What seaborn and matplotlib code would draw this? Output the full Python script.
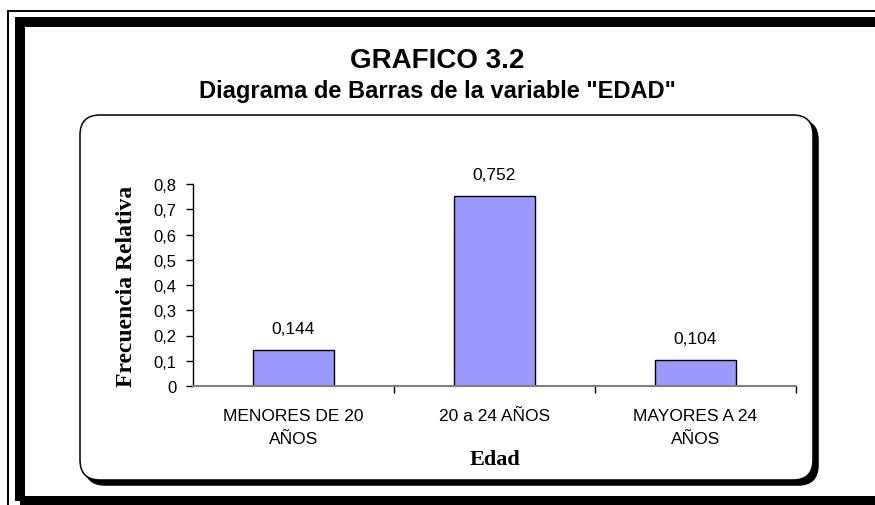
import matplotlib
matplotlib.use('Agg')
import matplotlib.pyplot as plt
import seaborn as sns
import pandas as pd
from matplotlib.patches import FancyBboxPatch, Rectangle
from matplotlib.ticker import FuncFormatter, FixedLocator

# Datos del grafico
categorias = ['MENORES DE 20\nAÑOS', '20 a 24 AÑOS', 'MAYORES A 24\nAÑOS']
frecuencia_relativa = [0.144, 0.752, 0.104]
etiquetas = ['0,144', '0,752', '0,104']
y_ticks = [0, 0.1, 0.2, 0.3, 0.4, 0.5, 0.6, 0.7, 0.8]

sns.set_style('white')
plt.rcParams['font.family'] = ['Liberation Sans', 'DejaVu Sans']
plt.rcParams['text.color'] = 'black'
plt.rcParams['axes.labelcolor'] = 'black'
plt.rcParams['xtick.color'] = 'black'
plt.rcParams['ytick.color'] = 'black'

W, H = 875, 506
fig = plt.figure(figsize=(W / 100, H / 100), dpi=100)
tr = fig.dpi_scale_trans


def px(x, y):
    # pixel (desde arriba) -> pulgadas (desde abajo)
    return x / 100, (H - y) / 100


# Marco exterior (linea fina + linea gruesa)
fig.add_artist(Rectangle(px(8, 520), 8.72, 5.08, fill=False, ec='black',
                         lw=1.44, transform=tr, zorder=-5))
fig.add_artist(Rectangle(px(20, 502), 8.57, 4.79, fill=False, ec='black',
                         lw=7.2, joinstyle='miter', transform=tr, zorder=-5))

# Recuadro redondeado con sombra
fig.add_artist(FancyBboxPatch(px(85, 486), 7.33, 3.65,
                              boxstyle='round,pad=0,rounding_size=0.2',
                              fc='black', ec='black', lw=1.1,
                              transform=tr, zorder=-3))
fig.add_artist(FancyBboxPatch(px(80, 481), 7.33, 3.65,
                              boxstyle='round,pad=0,rounding_size=0.2',
                              fc='white', ec='black', lw=1.1,
                              transform=tr, zorder=-2))

# Titulos
fig.text(437 / W, (H - 68) / H, 'GRAFICO 3.2', ha='center', va='baseline',
         fontsize=20, fontweight='bold')
fig.text(437 / W, (H - 98) / H, 'Diagrama de Barras de la variable "EDAD"',
         ha='center', va='baseline', fontsize=17, fontweight='bold')

# Grafico de barras
ax = fig.add_axes([193 / W, (H - 387) / H, 603 / W, 202 / H])
ax.set_facecolor('none')

df = pd.DataFrame({'Edad': categorias, 'Frecuencia Relativa': frecuencia_relativa})
sns.barplot(data=df, x='Edad', y='Frecuencia Relativa', color='#9999FF',
            saturation=1, width=0.4, edgecolor='black', linewidth=1, ax=ax)
ax.bar_label(ax.containers[0], labels=etiquetas, padding=10, fontsize=12.5)

ax.set_xlim(-0.5, 2.5)
ax.set_ylim(0, 0.8)
ax.set_yticks(y_ticks)
ax.yaxis.set_major_formatter(FuncFormatter(lambda v, p: f'{v:g}'.replace('.', ',')))
ax.xaxis.set_minor_locator(FixedLocator([0.5, 1.5, 2.5]))

for s in ['top', 'right']:
    ax.spines[s].set_visible(False)
ax.spines['left'].set_color('black')
ax.spines['left'].set_linewidth(1)
ax.spines['bottom'].set_color('#808080')
ax.spines['bottom'].set_linewidth(1.5)

ax.tick_params(axis='y', left=True, direction='out', length=5, width=1,
               color='black', labelsize=12, pad=7)
ax.tick_params(axis='x', which='major', bottom=True, length=0, labelsize=12.5, pad=16)
ax.tick_params(axis='x', which='minor', bottom=True, direction='out', length=5,
               width=1, color='black')
for lbl in ax.get_xticklabels():
    lbl.set_linespacing(1.65)

serif = ['Liberation Serif', 'DejaVu Serif']
ax.set_xlabel('Edad', family=serif, fontweight='bold', fontsize=16)
ax.xaxis.set_label_coords(0.5, -0.386)
ax.xaxis.label.set_va('baseline')
ax.set_ylabel('Frecuencia Relativa', family=serif, fontweight='bold', fontsize=17)
ax.yaxis.set_label_coords(-0.093, 0.5)

fig.savefig('out.png', dpi=100)
